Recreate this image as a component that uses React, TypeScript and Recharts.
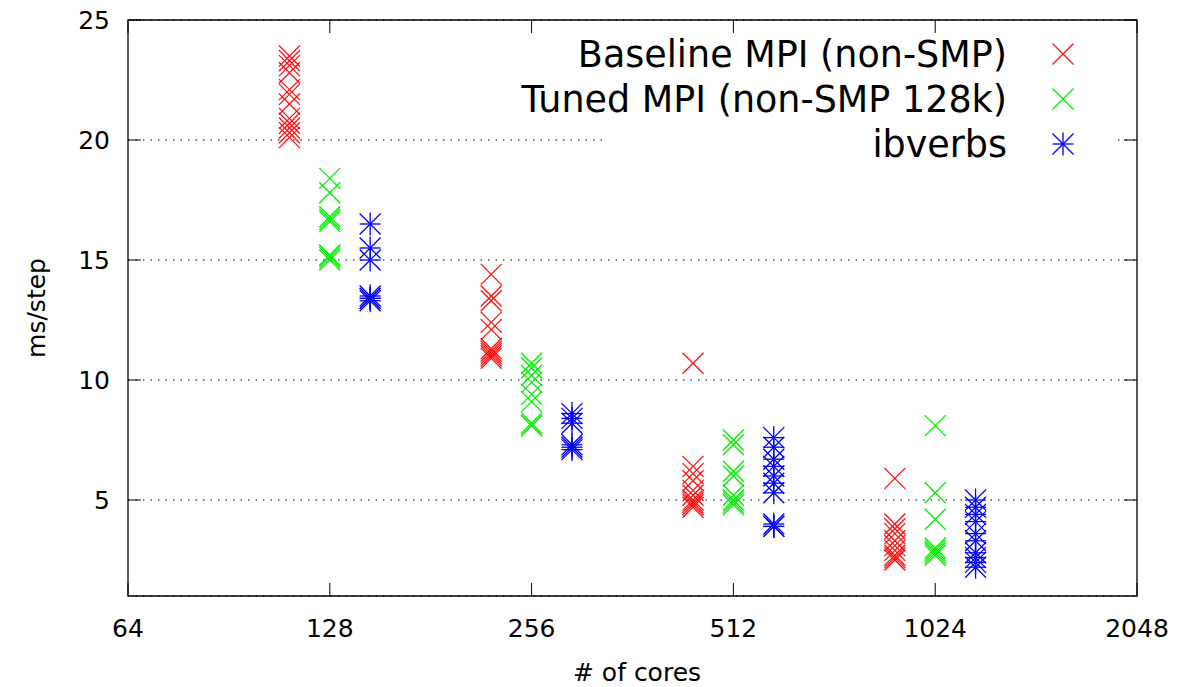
import React from 'react';
import { ScatterChart, Scatter, XAxis, YAxis, CartesianGrid, ReferenceArea } from 'recharts';

// ms/step per run, grouped by core count
const CORES = [128, 256, 512, 1024];
const X_TICKS = [64, 128, 256, 512, 1024, 2048];
const Y_TICKS = [5, 10, 15, 20, 25];

const baseline128 = [23.5, 23.3, 23.1, 22.8, 22.1, 21.9, 21.5, 20.9, 20.7, 20.5, 20.3, 20.1];
const baseline256 = [14.4, 13.5, 13.3, 12.4, 12.1, 11.3, 11.2, 11.1, 11.0, 10.9];
const baseline512 = [10.7, 6.4, 6.1, 5.8, 5.4, 5.2, 5.0, 4.9, 4.8, 4.7];
const baseline1024 = [5.9, 4.0, 3.8, 3.6, 3.3, 3.1, 2.9, 2.7, 2.6, 2.5];

const tuned128 = [18.4, 17.8, 16.8, 16.7, 16.6, 15.2, 15.2, 15.1, 15.0];
const tuned256 = [10.7, 10.5, 10.2, 9.9, 9.4, 9.1, 8.2, 8.1, 8.1];
const tuned512 = [7.5, 7.3, 6.2, 6.0, 5.2, 5.0, 4.9, 4.8];
const tuned1024 = [8.1, 5.3, 4.2, 3.0, 2.9, 2.8, 2.7];

const ibverbs128 = [16.5, 15.5, 15.0, 13.5, 13.4, 13.4, 13.3];
const ibverbs256 = [8.6, 8.4, 8.2, 7.3, 7.2, 7.1];
const ibverbs512 = [7.6, 7.2, 6.7, 6.4, 6.0, 5.7, 5.3, 4.0, 3.9, 3.9];
const ibverbs1024 = [5.0, 4.7, 4.4, 4.1, 3.6, 3.3, 2.8, 2.6, 2.4, 2.2];

// series are dodged left/right of the core count on the log axis
const DODGE = 2 ** 0.2;

const toPoints = (runs: number[][], shift: number) =>
  runs.flatMap((vals, i) => vals.map((ms) => ({ x: CORES[i] * shift, y: ms })));

const baselineData = toPoints([baseline128, baseline256, baseline512, baseline1024], 1 / DODGE);
const tunedData = toPoints([tuned128, tuned256, tuned512, tuned1024], 1);
const ibverbsData = toPoints([ibverbs128, ibverbs256, ibverbs512, ibverbs1024], DODGE);

const W = 1180;
const H = 687;
const PL = 128;
const PR = 1137;
const PT = 20;
const PB = 596;
const TICK = 13;
const FONT = 'DejaVu Sans';

const RED = '#ff1010';
const GREEN = '#00ee00';
const BLUE = '#0000ff';

const cross = (cx: number, cy: number, color: string, r = 10.5) => (
  <g stroke={color} strokeWidth={1.3}>
    <line x1={cx - r} y1={cy - r} x2={cx + r} y2={cy + r} />
    <line x1={cx - r} y1={cy + r} x2={cx + r} y2={cy - r} />
  </g>
);

const star = (cx: number, cy: number, color: string, r = 10.5) => (
  <g stroke={color} strokeWidth={1.3}>
    <line x1={cx - r} y1={cy - r} x2={cx + r} y2={cy + r} />
    <line x1={cx - r} y1={cy + r} x2={cx + r} y2={cy - r} />
    <line x1={cx - r} y1={cy} x2={cx + r} y2={cy} />
    <line x1={cx} y1={cy - r - 1} x2={cx} y2={cy + r + 1} />
  </g>
);

const YTick = ({ y, payload }: any) => (
  <g>
    <line x1={PL} x2={PL + TICK} y1={y} y2={y} stroke="#000" />
    <line x1={PR - TICK} x2={PR} y1={y} y2={y} stroke="#000" />
    <text x={PL - 18} y={y + 9} textAnchor="end" fontSize={25} fontFamily={FONT} fill="#000">
      {payload.value}
    </text>
  </g>
);

const XTick = ({ x, payload }: any) => (
  <g>
    <line x1={x} x2={x} y1={PB} y2={PB - TICK} stroke="#000" />
    <line x1={x} x2={x} y1={PT} y2={PT + TICK} stroke="#000" />
    <text x={x} y={637} textAnchor="middle" fontSize={25} fontFamily={FONT} fill="#000">
      {payload.value}
    </text>
  </g>
);

const legendRows = [
  { label: 'Baseline MPI (non-SMP)', color: RED, mark: cross, y: 54 },
  { label: 'Tuned MPI (non-SMP 128k)', color: GREEN, mark: cross, y: 99 },
  { label: 'ibverbs', color: BLUE, mark: star, y: 144 },
];

export default function App() {
  return (
    <div style={{ position: 'absolute', left: 0, top: 0, width: W, height: H, background: '#fff' }}>
      <ScatterChart width={W} height={H} margin={{ top: PT, right: W - PR, left: 0, bottom: 0 }}>
        <CartesianGrid vertical={false} stroke="#000" strokeDasharray="1.5 6" strokeWidth={1.2} />
        <XAxis
          type="number"
          dataKey="x"
          scale="log"
          domain={[64, 2048]}
          ticks={X_TICKS}
          allowDataOverflow
          axisLine={false}
          tickLine={false}
          tick={<XTick />}
          height={H - PB}
          interval={0}
        />
        <YAxis
          type="number"
          dataKey="y"
          domain={[1, 25]}
          ticks={Y_TICKS}
          allowDataOverflow
          axisLine={false}
          tickLine={false}
          tick={<YTick />}
          width={PL}
          interval={0}
        />
        <ReferenceArea x1={64} x2={2048} y1={1} y2={25} fill="none" stroke="#000" strokeWidth={1.3} ifOverflow="visible" />
        <Scatter data={baselineData} isAnimationActive={false} shape={(p: any) => cross(p.cx, p.cy, RED)} />
        <Scatter data={tunedData} isAnimationActive={false} shape={(p: any) => cross(p.cx, p.cy, GREEN)} />
        <Scatter data={ibverbsData} isAnimationActive={false} shape={(p: any) => star(p.cx, p.cy, BLUE)} />
      </ScatterChart>
      <svg
        width={W}
        height={H}
        style={{ position: 'absolute', left: 0, top: 0, pointerEvents: 'none', overflow: 'visible' }}
      >
        <rect x={608} y={34} width={510} height={132} fill="#fff" />
        {legendRows.map((r) => (
          <g key={r.label}>
            <text x={1007} y={r.y + 13} textAnchor="end" fontSize={36.5} fontFamily={FONT} fill="#000">
              {r.label}
            </text>
            {r.mark(1063, r.y, r.color)}
          </g>
        ))}
        <text
          x={36}
          y={308}
          transform="rotate(-90 36 308)"
          textAnchor="middle"
          dominantBaseline="central"
          fontSize={25}
          fontFamily={FONT}
          fill="#000"
        >
          ms/step
        </text>
        <text x={637} y={681} textAnchor="middle" fontSize={25} fontFamily={FONT} fill="#000">
          # of cores
        </text>
      </svg>
    </div>
  );
}
